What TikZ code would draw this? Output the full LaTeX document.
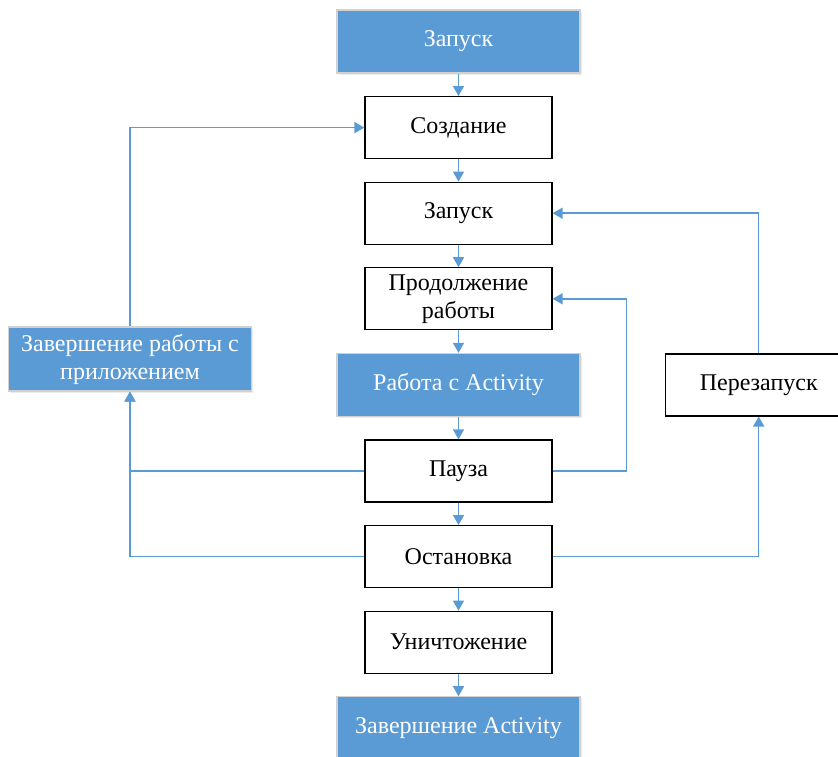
\documentclass[tikz,border=0pt]{standalone}
\usepackage{fontspec}
\setmainfont{Liberation Serif}
\usetikzlibrary{positioning,arrows.meta,shadows}
\definecolor{actblue}{HTML}{5B9BD5}

\begin{document}
\begin{tikzpicture}[
  x=0.5pt, y=0.5pt,
  node distance=11.2pt and 42pt,
  font=\fontsize{12}{14}\selectfont,
  stage/.style={draw=black,line width=0.6pt,fill=white,minimum width=93.5pt,minimum height=31pt,inner sep=2pt,align=center},
  phase/.style={draw=black!18,line width=0.6pt,fill=actblue,text=white,minimum width=121.5pt,minimum height=31.5pt,inner sep=2pt,align=center,drop shadow={opacity=0.15,shadow xshift=0.8pt,shadow yshift=-0.8pt}},
  flow/.style={draw=actblue,line width=0.75pt,-{Triangle[length=5pt,width=5.5pt]}}
]
\useasboundingbox (0,0) rectangle (838,-756);
\node[phase] (start) at (458.5,-41.5) {Запуск};
\node[stage,below=of start] (create) {Создание};
\node[stage,below=of create] (onstart) {Запуск};
\node[stage,below=of onstart] (cont) {Продолжение\\работы};
\node[phase,below=of cont] (work) {Работа с Activity};
\node[stage,below=of work] (pause) {Пауза};
\node[stage,below=of pause] (stop) {Остановка};
\node[stage,below=of stop] (destroy) {Уничтожение};
\node[phase,below=of destroy] (finish) {Завершение Activity};
\node[phase,minimum height=32pt] (quit) at (130,-359) {Завершение работы с\\приложением};
\node[stage,right=of work] (restart) {Перезапуск};
% main column
\foreach \a/\b in {start/create,create/onstart,onstart/cont,cont/work,work/pause,pause/stop,stop/destroy,destroy/finish}
  \path (\a) edge[flow] (\b);
% side loops
\draw[flow] (quit.north) |- (create.west);
\draw[flow] (pause.west) -| (quit.south);
\draw[flow] (stop.west) -| (quit.south);
\draw[flow] (pause.east) -- ++(74,0) |- (cont.east);
\draw[flow] (stop.east) -| (restart.south);
\draw[flow] (restart.north) |- (onstart.east);
\end{tikzpicture}
\end{document}
